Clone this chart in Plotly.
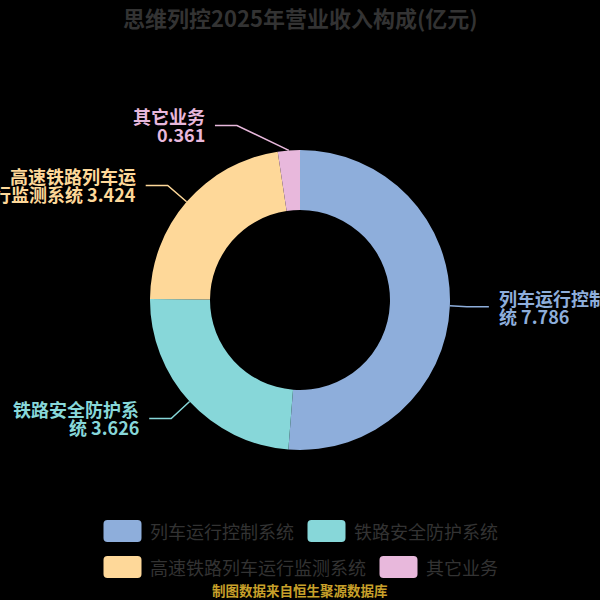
import math
import plotly.graph_objects as go

# ---- data ----
categories = ["列车运行控制系统", "铁路安全防护系统", "高速铁路列车运行监测系统", "其它业务"]
values = [7.786, 3.626, 3.424, 0.361]
colors = ["#8eaedb", "#87d7d9", "#fed899", "#e8b8dc"]
title_text = "思维列控2025年营业收入构成(亿元)"
source_text = "制图数据来自恒生聚源数据库"

# ---- layout constants (pixels) ----
W = H = 600
CX, CY, R = 300, 300, 150
HOLE = 0.6
FONT = "Noto Sans CJK SC"
LEN1, LEN2, GAP = 25, 22, 8
elbow_dx = [-8, 0, 0, -50]  # label-avoidance shift of elbow


def px(x):
    return x / W


def py(y):
    return 1 - y / H


fig = go.Figure(
    go.Pie(
        labels=categories,
        values=values,
        hole=HOLE,
        sort=False,
        direction="clockwise",
        rotation=0,
        marker=dict(colors=colors, line=dict(width=0)),
        textinfo="none",
        hoverinfo="label+value",
        showlegend=False,
        domain=dict(x=[px(CX - R), px(CX + R)], y=[py(CY + R), py(CY - R)]),
    )
)


def wrap(name, val):
    s = f"{name} {val}"
    if len(name) > 7:
        return s[:7], s[7:]
    return name, f"{val}"


shapes = []
annotations = []
total = sum(values)
cum = 0.0
for i, (name, v, c) in enumerate(zip(categories, values, colors)):
    mid = (cum + v / 2) / total * 2 * math.pi
    cum += v
    sx, sy = math.sin(mid), -math.cos(mid)
    x0, y0 = CX + R * sx, CY + R * sy
    x1, y1 = CX + (R + LEN1) * sx + elbow_dx[i], CY + (R + LEN1) * sy
    side = 1 if sx >= 0 else -1
    x2 = x1 + side * LEN2
    path = f"M {px(x0)} {py(y0)} L {px(x1)} {py(y1)} L {px(x2)} {py(y1)}"
    shapes.append(dict(type="path", xref="paper", yref="paper", path=path,
                       line=dict(color=c, width=1.5)))
    l1, l2 = wrap(name, v)
    tx = x2 + side * GAP
    for txt, dy in ((l1, -9), (l2, 9)):
        annotations.append(dict(
            x=px(tx), y=py(y1 + dy), xref="paper", yref="paper", text=txt,
            showarrow=False, xanchor="left" if side > 0 else "right",
            yanchor="middle", align="left" if side > 0 else "right",
            font=dict(family=FONT, size=18, color=c, weight="bold"),
        ))

# ---- custom legend ----
BOX_W, BOX_H, BOX_GAP, ITEM_GAP, CHAR_W = 38, 22, 7, 15, 18
rows = [[0, 1], [2, 3]]
row_y = [531, 567]


def rrect(x, y, w, h, r):
    X = lambda v: px(v)
    Y = lambda v: py(v)
    return (f"M {X(x+r)} {Y(y)} L {X(x+w-r)} {Y(y)} Q {X(x+w)} {Y(y)} {X(x+w)} {Y(y+r)} "
            f"L {X(x+w)} {Y(y+h-r)} Q {X(x+w)} {Y(y+h)} {X(x+w-r)} {Y(y+h)} "
            f"L {X(x+r)} {Y(y+h)} Q {X(x)} {Y(y+h)} {X(x)} {Y(y+h-r)} "
            f"L {X(x)} {Y(y+r)} Q {X(x)} {Y(y)} {X(x+r)} {Y(y)} Z")


for row, yc in zip(rows, row_y):
    widths = [BOX_W + BOX_GAP + len(categories[k]) * CHAR_W for k in row]
    total_w = sum(widths) + ITEM_GAP * (len(row) - 1)
    x = CX - total_w / 2
    for k, w in zip(row, widths):
        shapes.append(dict(type="path", xref="paper", yref="paper",
                           path=rrect(x, yc - BOX_H / 2, BOX_W, BOX_H, 4),
                           fillcolor=colors[k], line=dict(width=0)))
        annotations.append(dict(
            x=px(x + BOX_W + BOX_GAP - 1), y=py(yc), xref="paper", yref="paper",
            text=categories[k], showarrow=False, xanchor="left", yanchor="middle",
            font=dict(family=FONT, size=18, color="#333333"),
        ))
        x += w + ITEM_GAP

# title and source
annotations.append(dict(x=0.5, y=py(17), xref="paper", yref="paper", text=title_text,
                        showarrow=False, xanchor="center", yanchor="middle",
                        font=dict(family=FONT, size=22, color="#333333", weight="bold")))
annotations.append(dict(x=0.5, y=py(590), xref="paper", yref="paper", text=source_text,
                        showarrow=False, xanchor="center", yanchor="middle",
                        font=dict(family=FONT, size=13.5, color="#c8a02a", weight="bold")))

fig.update_layout(
    width=W, height=H,
    margin=dict(l=0, r=0, t=0, b=0),
    paper_bgcolor="#000000",
    plot_bgcolor="#000000",
    shapes=shapes,
    annotations=annotations,
    showlegend=False,
)

fig.write_html(
    "out.html",
    config={"displayModeBar": False},
    post_script="document.body.style.margin='0';document.body.style.overflow='hidden';"
                "document.body.style.background='#000';",
)
